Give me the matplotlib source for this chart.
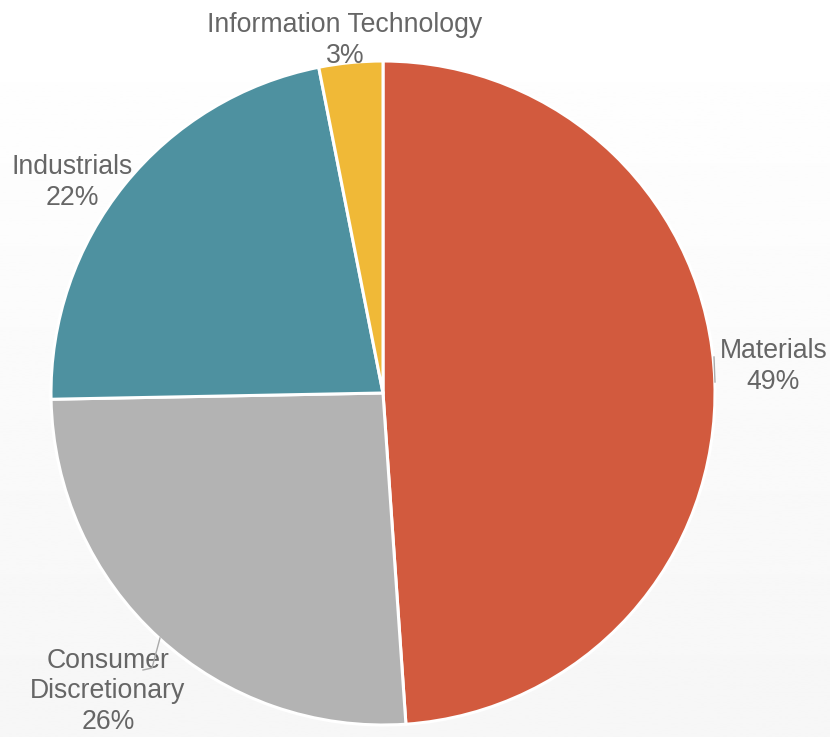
import numpy as np
import matplotlib
matplotlib.use("Agg")
import matplotlib.pyplot as plt

# sector shares, clockwise from 12 o'clock
sectors = ["Materials", "Consumer\nDiscretionary", "Industrials", "Information Technology"]
shares = [48.9, 25.8, 22.2, 3.1]
pct_labels = ["49%", "26%", "22%", "3%"]
colors = ["#D25A3E", "#B3B3B3", "#4E91A0", "#F0B937"]

W, H = 830, 737
fig = plt.figure(figsize=(W / 100, H / 100), dpi=100)
ax = fig.add_axes([0, 0, 1, 1])

# faint vertical background gradient
grad = np.linspace(1.0, 0.965, 256).reshape(-1, 1)
ax.imshow(grad, cmap="gray", vmin=0, vmax=1, extent=[0, W, 0, H],
          aspect="auto", origin="upper", zorder=0)

cx, cy, r = 383, H - 393, 332
wedges, _ = ax.pie(shares, colors=colors, startangle=90, counterclock=False,
                   center=(cx, cy), radius=r, frame=True,
                   wedgeprops=dict(edgecolor="white", linewidth=2.2))
for w in wedges:
    w.set_zorder(2)
ax.set_xlim(0, W)
ax.set_ylim(0, H)
ax.set_aspect("equal")
ax.axis("off")

# label layout: x, first baseline (px from top), horizontal alignment
label_pos = [(720, 358, "left"), (108, 668, "center"), (72, 174, "center"), (345, 32, "center")]
step = 30.5
font = dict(family=["Liberation Sans", "DejaVu Sans"], size=19.2, color="#666666")
for name, pct, (lx, ly, ha) in zip(sectors, pct_labels, label_pos):
    lines = name.split("\n") + [pct]
    for i, line in enumerate(lines):
        if ha == "left" and i == len(lines) - 1:
            ax.text(lx + 53, H - (ly + i * step), line, ha="center", va="baseline",
                    zorder=3, **font)
        else:
            ax.text(lx, H - (ly + i * step), line, ha=ha, va="baseline",
                    zorder=3, **font)

# short connectors
ax.plot([714, 715], [H - 357, H - 382], color="#aaaaaa", lw=1, zorder=3)
ax.plot([160, 152, 143], [H - 638, H - 668, H - 670], color="#aaaaaa", lw=1, zorder=3)

fig.savefig("out.png", dpi=100)
